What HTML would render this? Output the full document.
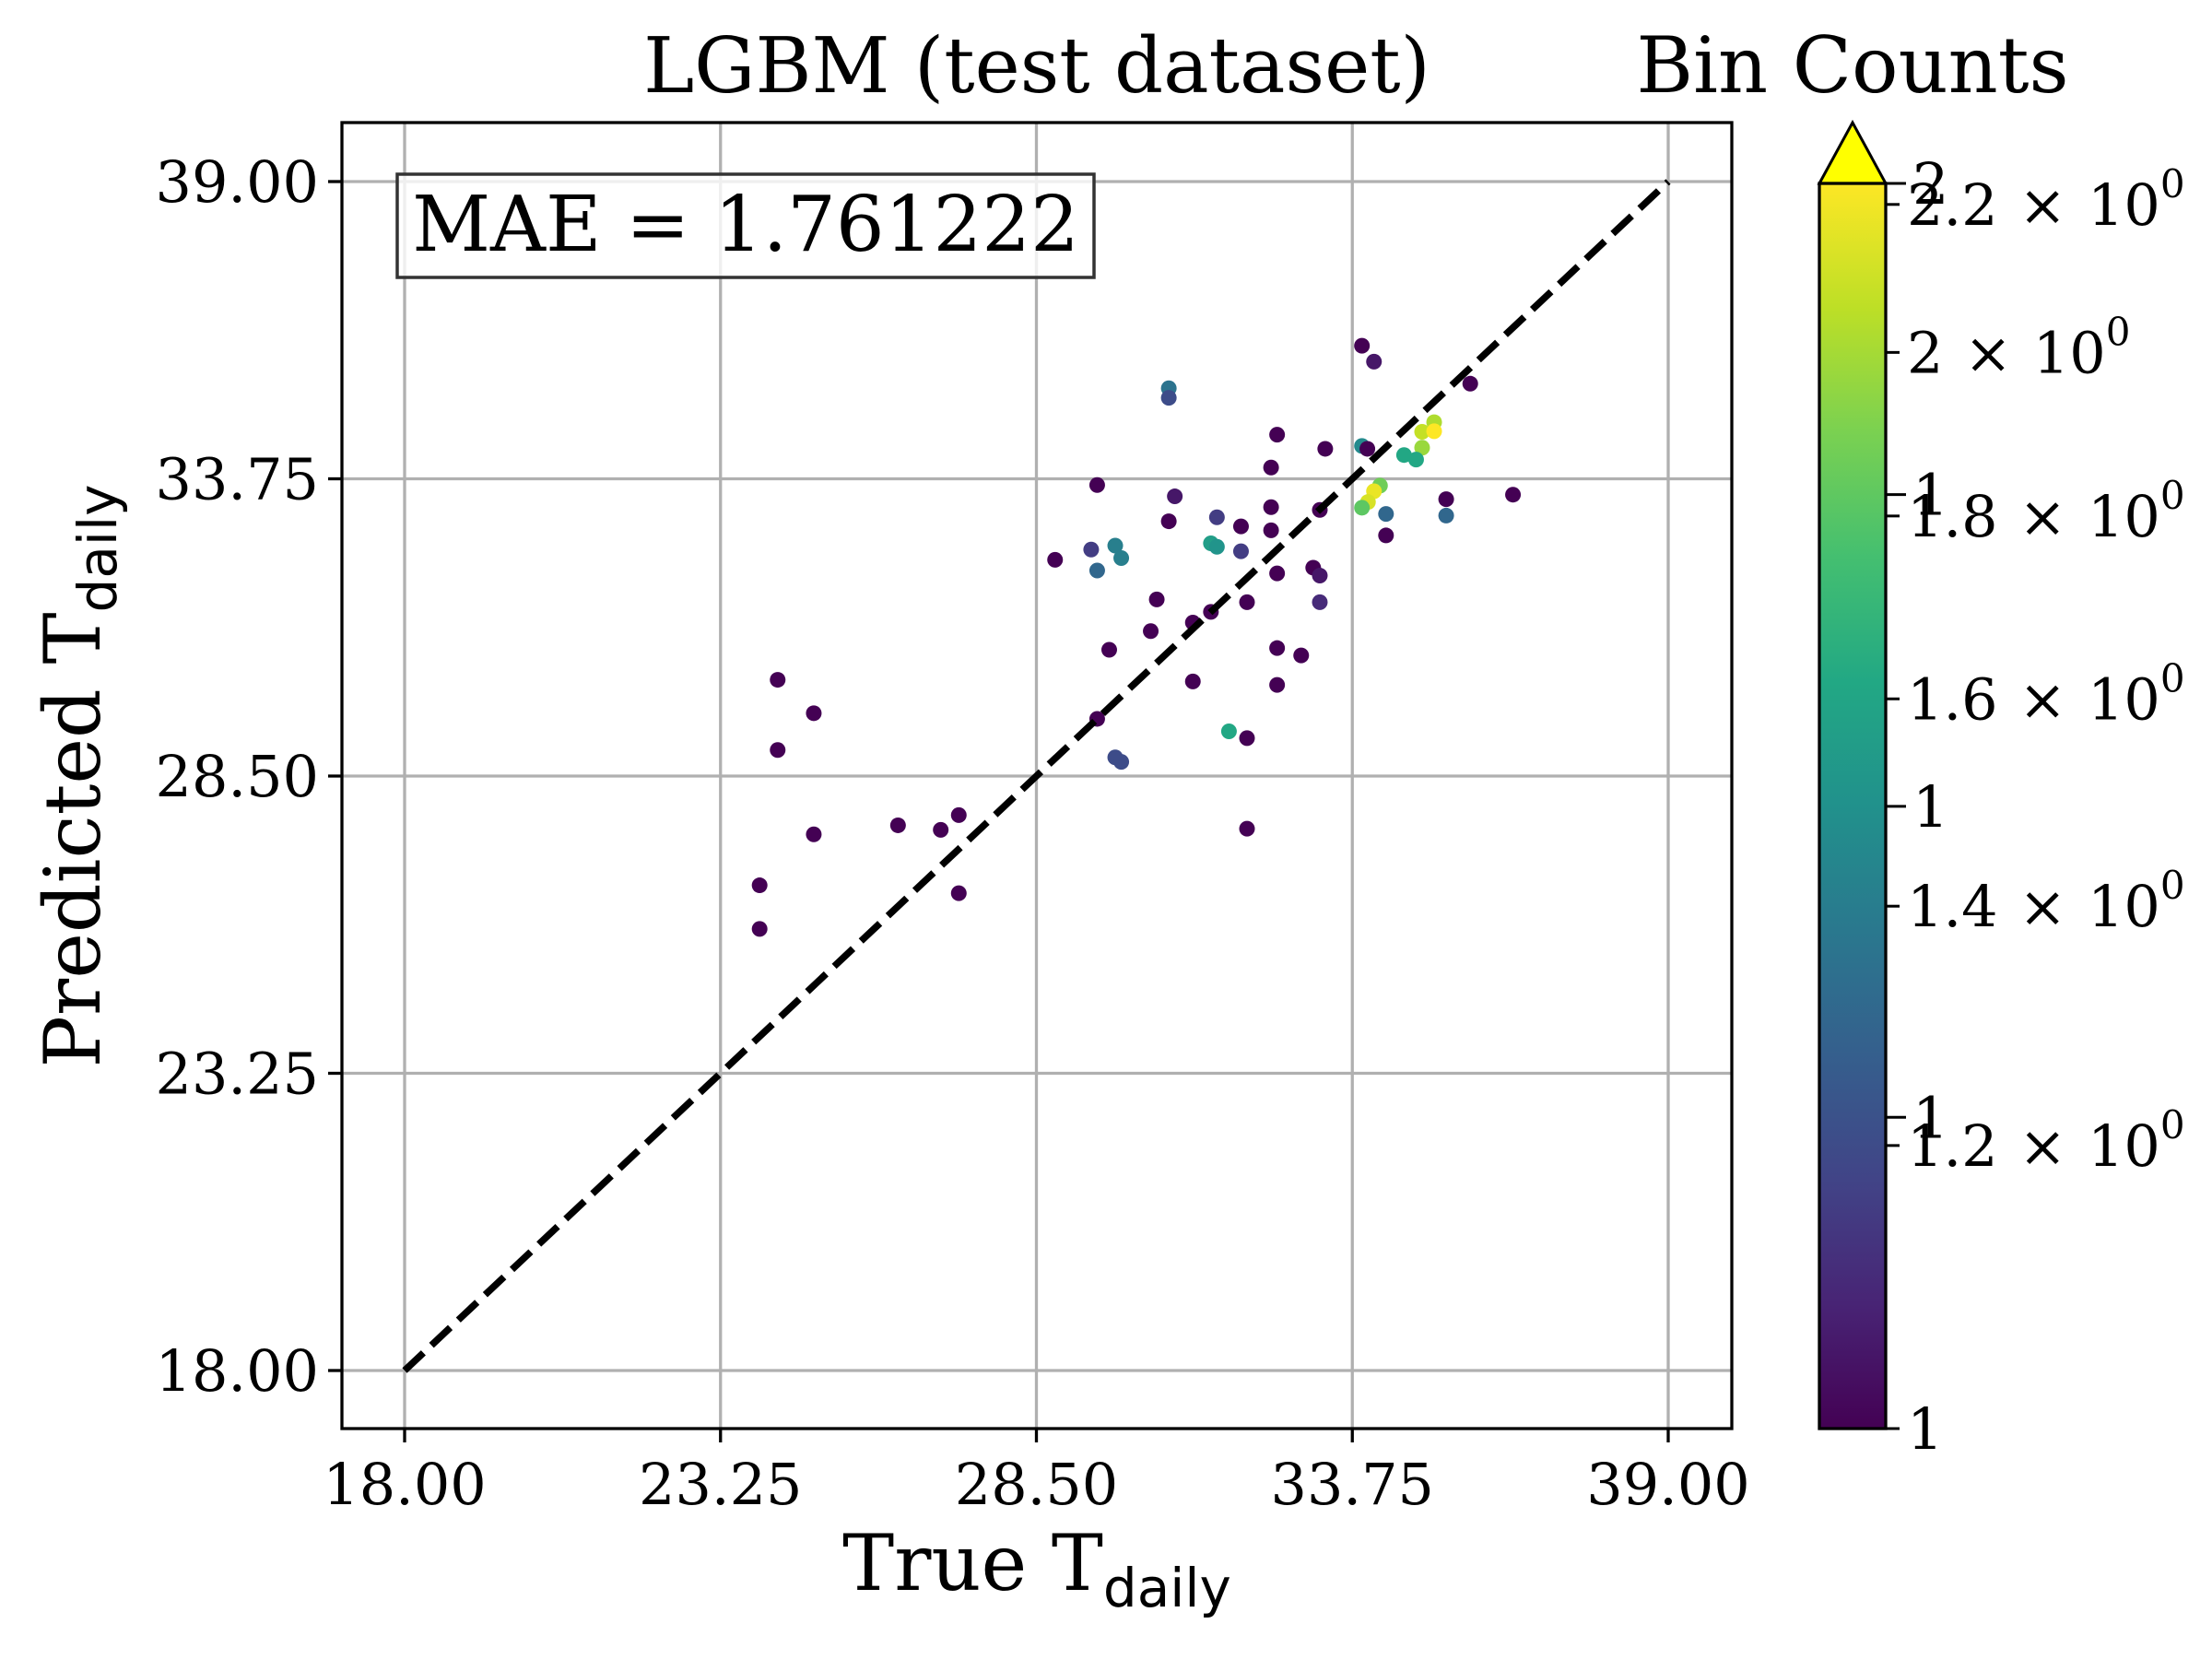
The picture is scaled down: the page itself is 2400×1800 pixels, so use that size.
<!DOCTYPE html>
<html><head><meta charset="utf-8"><style>
html,body{margin:0;padding:0;background:#fff}
svg{display:block;font-family:"DejaVu Serif","Liberation Serif",serif}
</style></head><body>
<svg id="chart" width="2400" height="1800" viewBox="0 0 2400 1800" xmlns="http://www.w3.org/2000/svg">
<defs>
<linearGradient id="vir" x1="0" y1="1" x2="0" y2="0">
<stop offset="0" stop-color="#440154"/><stop offset="0.1" stop-color="#482475"/><stop offset="0.2" stop-color="#414487"/><stop offset="0.3" stop-color="#355f8d"/><stop offset="0.4" stop-color="#2a788e"/><stop offset="0.5" stop-color="#21918c"/><stop offset="0.6" stop-color="#22a884"/><stop offset="0.7" stop-color="#44bf70"/><stop offset="0.8" stop-color="#7ad151"/><stop offset="0.9" stop-color="#bddf26"/><stop offset="1" stop-color="#fde725"/>
</linearGradient>
</defs>
<g id="grid"></g>
<g id="marks"></g>
<g id="axes"></g>
<text x="1125" y="100" font-size="83" text-anchor="middle">LGBM (test dataset)</text>
<text x="2010" y="100" font-size="84" text-anchor="middle">Bin Counts</text>
<g>
<rect x="431" y="189" width="756" height="112" fill="#fff" fill-opacity="0.8" stroke="#333" stroke-width="3.5"/>
<text x="809" y="272" font-size="83" text-anchor="middle">MAE = 1.761222</text>
</g>
<text x="1125" y="1725" font-size="84" text-anchor="middle">True T<tspan font-family="DejaVu Sans, Liberation Sans, sans-serif" font-size="58" dy="18">daily</tspan></text>
<text transform="translate(108,842) rotate(-90)" font-size="84" text-anchor="middle">Predicted T<tspan font-family="DejaVu Sans, Liberation Sans, sans-serif" font-size="58" dy="18">daily</tspan></text>
<g id="cbar">
<polygon points="1974,199 2010,133 2046,199" fill="#ffff00" stroke="#000" stroke-width="3"/>
<rect x="1974" y="199" width="72" height="1351" fill="url(#vir)" stroke="#000" stroke-width="3.3"/>
</g>
<g id="cticks"></g>
</svg>
<script>
const xVals=[33.91,34.11,30.70,30.70,35.71,35.11,34.91,35.11,34.91,33.91,34.00,33.30,32.50,34.61,34.81,32.40,29.51,30.80,34.21,34.11,34.01,33.91,33.21,32.40,35.31,36.42,34.31,35.31,30.70,31.50,31.90,32.40,34.31,28.81,29.41,29.81,29.91,29.51,31.40,31.50,31.90,32.50,33.10,33.21,30.50,32.00,33.21,31.40,31.10,30.40,29.71,32.50,32.90,31.10,32.50,24.20,24.80,29.51,24.20,31.70,32.00,29.81,29.91,26.20,26.91,27.21,24.80,32.00,23.90,27.21,23.90];
const yVals=[36.10,35.82,35.35,35.18,35.43,34.75,34.58,34.59,34.30,34.33,34.28,34.28,34.53,34.17,34.09,33.95,33.64,33.44,33.63,33.53,33.34,33.24,33.20,33.25,33.39,33.47,33.13,33.10,33.00,33.07,32.91,32.84,32.75,32.32,32.50,32.57,32.35,32.13,32.61,32.55,32.47,32.08,32.18,32.04,31.62,31.57,31.57,31.40,31.21,31.06,30.73,30.76,30.63,30.17,30.11,30.20,29.61,29.51,28.96,29.29,29.17,28.83,28.75,27.63,27.55,27.81,27.47,27.57,26.57,26.43,25.80];
const counts=[1,1.05,1.35,1.2,1,2.0,2.05,2.2,1.95,1.45,1,1,1,1.6,1.6,1,1,1.05,1.85,2.15,2.1,1.8,1,1,1,1,1.3,1.3,1,1.15,1,1,1,1,1.15,1.4,1.4,1.3,1.55,1.5,1.15,1,1,1.05,1,1,1.1,1,1,1,1,1,1,1,1,1,1,1,1,1.6,1,1.2,1.2,1,1,1,1,1,1,1,1];
const axTicks=[18,23.25,28.5,33.75,39];
const axTickLabels=["18.00","23.25","28.50","33.75","39.00"];
const cbMajor=[1,1.2,1.4,1.6,1.8,2,2.2];
const cbMajorLabels=["1","1.2","1.4","1.6","1.8","2","2.2"];
const cbExtra=[1.222,1.493,1.825,2.23];
const cbExtraLabels=["1","1","1","2"];
const NS="http://www.w3.org/2000/svg";
const X0=439,X1=1810,Y0=1487,Y1=197,L=371,R=1879,T=133,B=1550;
const sx=v=>X0+(v-18)/21*(X1-X0);
const sy=v=>Y0-(v-18)/21*(Y0-Y1);
const CB0=1550,CB1=199,VMAX=2.23;
const cy=v=>CB0-Math.log(v)/Math.log(VMAX)*(CB0-CB1);
const vir=[[68,1,84],[72,36,117],[65,68,135],[53,95,141],[42,120,142],[33,145,140],[34,168,132],[68,191,112],[122,209,81],[189,223,38],[253,231,37]];
function color(c){let t=Math.min(1,Math.max(0,Math.log(c)/Math.log(2.2)));let f=t*10,i=Math.min(9,Math.floor(f)),r=f-i;const a=vir[i],b=vir[i+1];return`rgb(${a.map((q,k)=>Math.round(q+(b[k]-q)*r)).join(',')})`;}
function mk(tag,attrs,parent){const e=document.createElementNS(NS,tag);for(const k in attrs)e.setAttribute(k,attrs[k]);parent.appendChild(e);return e;}
const grid=document.getElementById('grid'),marks=document.getElementById('marks'),axes=document.getElementById('axes'),ct=document.getElementById('cticks');
axTicks.forEach((v,i)=>{
 let g=mk('line',{x1:sx(v),x2:sx(v),y1:T,y2:B,stroke:'#b0b0b0','stroke-width':3.3},grid);
 
 
 g=mk('line',{x1:L,x2:R,y1:sy(v),y2:sy(v),stroke:'#b0b0b0','stroke-width':3.3},grid);
 
 
 let t=mk('line',{x1:sx(v),x2:sx(v),y1:B,y2:B+15,stroke:'#000','stroke-width':3.3},axes);
 
 
 let tx=mk('text',{x:sx(v),y:B+82,'font-size':62,'text-anchor':'middle'},axes);tx.textContent=axTickLabels[i];
 
 
 t=mk('line',{x1:L-15,x2:L,y1:sy(v),y2:sy(v),stroke:'#000','stroke-width':3.3},axes);
 
 
 tx=mk('text',{x:L-25,y:sy(v)+22,'font-size':62,'text-anchor':'end'},axes);tx.textContent=axTickLabels[i];
 
 
});
xVals.forEach((v,i)=>{
 const c=mk('circle',{cx:sx(v),cy:sy(yVals[i]),r:8.5,fill:color(counts[i])},marks);
 
 
});
const d=mk('line',{x1:sx(18),y1:sy(18),x2:sx(39),y2:sy(39),stroke:'#000','stroke-width':7.5,'stroke-dasharray':'28 12'},axes);


const fr=mk('rect',{x:L,y:T,width:R-L,height:B-T,fill:'none',stroke:'#000','stroke-width':3.3},axes);


cbMajor.forEach((v,i)=>{
 const y=cy(v);
 const t=mk('line',{x1:2046,x2:2061,y1:y,y2:y,stroke:'#000','stroke-width':3},ct);
 
 
 const tx=mk('text',{x:2069,y:y+22,'font-size':62,'word-spacing':'3'},ct);
 if(v===1){tx.textContent='1';}else{tx.innerHTML=cbMajorLabels[i]+' × 10<tspan font-size="42" dy="-30">0</tspan>';}
 
 
});
cbExtra.forEach((v,i)=>{
 const y=cy(v);
 const t=mk('line',{x1:2046,x2:2068,y1:y,y2:y,stroke:'#000','stroke-width':3},ct);
 
 
 const tx=mk('text',{x:2075,y:y+22,'font-size':62},ct);tx.textContent=cbExtraLabels[i];
 
 
});
</script>
</body></html>
